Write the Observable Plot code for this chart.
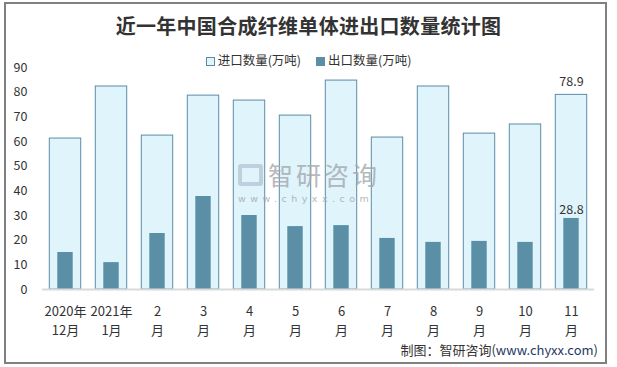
<!DOCTYPE html>
<html>
<head>
<meta charset="utf-8">
<script src="https://cdn.jsdelivr.net/npm/d3@7"></script>
<script src="https://cdn.jsdelivr.net/npm/@observablehq/plot@0.6"></script>
<style>
  body { margin: 0; background: #fff; font-family: "Noto Sans CJK SC", "Microsoft YaHei", sans-serif; }
  #wrap { position: relative; width: 617px; height: 367px; overflow: hidden; }
  #frame { position: absolute; left: 4px; top: 2px; width: 603px; height: 362px; box-sizing: border-box; border: 2px solid #808080; pointer-events: none; }
  #title { position: absolute; left: 0; width: 617px; top: 11px; text-align: center; font-size: 20px; font-weight: bold; color: #333; letter-spacing: 0.3px; }
  #legend { position: absolute; left: 0; width: 617px; top: 50px; text-align: center; font-size: 12.5px; color: #333; }
  #legend span.item { display: inline-block; margin: 0 6px; }
  #legend span.sw { display: inline-block; width: 9px; height: 9px; margin-right: 3px; vertical-align: -1px; box-sizing: border-box; }
  #caption { position: absolute; right: 19px; top: 340px; font-size: 13px; color: #333; }
  #caption .url { color: #1f3864; }
  #wm { position: absolute; left: 236px; top: 162px; color: #a4a8ad; opacity: 0.8; }
  #wm .big { font-size: 25px; line-height: 25px; letter-spacing: 3px; position: absolute; left: 32px; top: 0; white-space: nowrap; }
  #wm .small { font-size: 9.5px; line-height: 10px; letter-spacing: 4.5px; position: absolute; left: 2px; top: 32px; white-space: nowrap; font-family: "DejaVu Sans", sans-serif; }
  #wm .logo { position: absolute; left: 2px; top: 2px; width: 25px; height: 22px; border: 4px solid #b9c6d8; border-radius: 3px; box-sizing: border-box; }
  #plot { position: absolute; left: 0; top: 0; }
</style>
</head>
<body>
<div id="wrap">
  <div id="plot"></div>
  <div id="title">近一年中国合成纤维单体进出口数量统计图</div>
  <div id="legend">
    <span class="item"><span class="sw" style="background:#dff4fb;border:1px solid #5a8ca6"></span>进口数量(万吨)</span>
    <span class="item"><span class="sw" style="background:#5b8fa6"></span>出口数量(万吨)</span>
  </div>
  <div id="wm"><div class="logo"></div><div class="big">智研咨询</div><div class="small">www.chyxx.com</div></div>
  <div id="caption">制图：智研咨询(<span class="url">www.chyxx.com</span>)</div>
  <div id="frame"></div>
</div>
<script>
const months = ["2020年\n12月", "2021年\n1月", "2\n月", "3\n月", "4\n月", "5\n月", "6\n月", "7\n月", "8\n月", "9\n月", "10\n月", "11\n月"];
const imports = [61.2, 82.3, 62.4, 78.6, 76.6, 70.5, 84.7, 61.6, 82.3, 63.2, 66.9, 78.9];
const exports = [15.0, 10.9, 22.7, 37.7, 30.0, 25.5, 25.9, 20.7, 19.1, 19.5, 19.1, 28.8];
const yTicks = [0, 10, 20, 30, 40, 50, 60, 70, 80, 90];
const labeled = ["11\n月"];

const data = months.map((m, i) => ({month: m, imp: imports[i], exp: exports[i]}));
const lab = data.filter(d => labeled.includes(d.month));

const chart = Plot.plot({
  width: 617,
  height: 367,
  marginLeft: 42,
  marginRight: 23,
  marginTop: 67,
  marginBottom: 78,
  style: {color: "#333", fontFamily: "'Noto Sans CJK SC', sans-serif", background: "transparent"},
  x: {domain: months, padding: 0, label: null},
  y: {domain: [0, 90], label: null},
  marks: [
    Plot.barY(data, {x: "month", y: "imp", fill: "#dff4fb", stroke: "#5a8ca6", strokeWidth: 1, insetLeft: 7.3, insetRight: 7.3}),
    Plot.barY(data, {x: "month", y: "exp", fill: "#5b8fa6", insetLeft: 15.3, insetRight: 15.3}),
    Plot.ruleY([0], {stroke: "#d9d9d9", strokeWidth: 2}),
    Plot.text(lab, {x: "month", y: "imp", text: d => d.imp.toFixed(1), dy: -13, fontSize: 12.5, fill: "#333"}),
    Plot.text(lab, {x: "month", y: "exp", text: d => d.exp.toFixed(1), dy: -8, fontSize: 12.5, fill: "#333"}),
    Plot.axisY({ticks: yTicks, tickSize: 0, tickPadding: 15, fontSize: 12.5, label: null}),
    Plot.axisX({tickSize: 0, tickPadding: 13, fontSize: 13, lineHeight: 1.45, label: null})
  ]
});
document.getElementById("plot").appendChild(chart);
</script>
</body>
</html>
